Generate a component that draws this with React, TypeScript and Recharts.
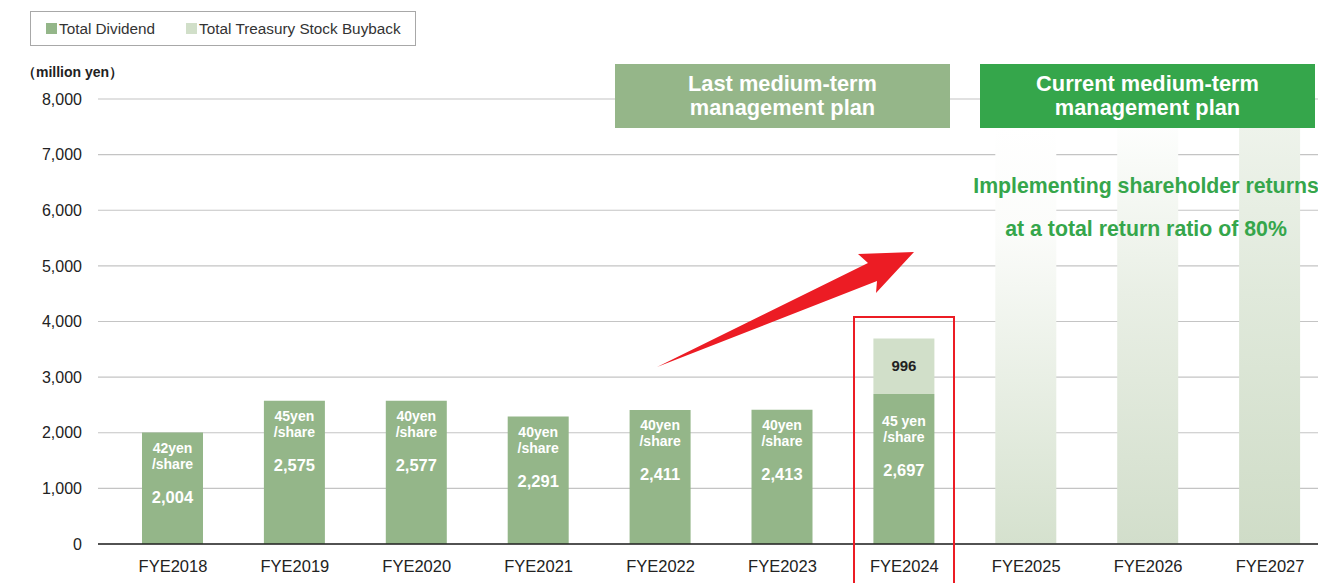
import { BarChart, Bar, XAxis, YAxis, CartesianGrid, Cell, LabelList } from 'recharts';

const years = ['FYE2018', 'FYE2019', 'FYE2020', 'FYE2021', 'FYE2022', 'FYE2023', 'FYE2024', 'FYE2025', 'FYE2026', 'FYE2027'];
const dividend = [2004, 2575, 2577, 2291, 2411, 2413, 2697, null, null, null];
const buyback = [null, null, null, null, null, null, 996, null, null, null];
// future years: decorative gradient columns rising behind the plan banner
const planned = [null, null, null, null, null, null, null, 7500, 7500, 7500];
const perShare = ['42yen', '45yen', '40yen', '40yen', '40yen', '40yen', '45 yen', '', '', ''];
const yTicks = [0, 1000, 2000, 3000, 4000, 5000, 6000, 7000, 8000];

const FONT = '"Liberation Sans", Arial, Helvetica, sans-serif';
const DIV_COLOR = '#94b689';
const BUY_COLOR = '#d1dfc9';

const data = years.map((year, i) => ({
  year,
  dividend: dividend[i],
  buyback: buyback[i],
  planned: planned[i],
}));

const fmt = (v: number) => v.toLocaleString('en-US');

function DividendLabel(props: any) {
  const { x, y, width, index, value } = props;
  if (value == null) return null;
  const cx = x + width / 2;
  // the stacked bar's labels sit a little lower
  const shift = buyback[index] ? 12 : 0;
  return (
    <g fontFamily={FONT} fontWeight={700} fill="#fff" textAnchor="middle">
      <text x={cx} y={y + 20 + shift} fontSize={14}>{perShare[index]}</text>
      <text x={cx} y={y + 36 + shift} fontSize={14}>/share</text>
      <text x={cx} y={y + 70 + shift} fontSize={16.5}>{fmt(value)}</text>
    </g>
  );
}

function BuybackLabel(props: any) {
  const { x, y, width, height, value } = props;
  if (value == null) return null;
  return (
    <text x={x + width / 2} y={y + height / 2 + 5} textAnchor="middle"
      fontFamily={FONT} fontWeight={700} fontSize={15} fill="#222">
      {fmt(value)}
    </text>
  );
}

export default function App() {
  return (
    <div style={{
      position: 'fixed', left: 0, top: 0, width: 1318, height: 583,
      overflow: 'hidden', background: '#fff', fontFamily: FONT,
    }}>
      <BarChart width={1331} height={583} data={data}
        margin={{ top: 99, right: 0, left: 20, bottom: 9 }}>
        <defs>
          <linearGradient id="g2025" x1="0" y1="0" x2="0" y2="1">
            <stop offset="0%" stopColor="#ffffff" />
            <stop offset="25%" stopColor="#fbfcfa" />
            <stop offset="100%" stopColor="#d5e1ce" />
          </linearGradient>
          <linearGradient id="g2026" x1="0" y1="0" x2="0" y2="1">
            <stop offset="0%" stopColor="#fdfefd" />
            <stop offset="40%" stopColor="#e9efe5" />
            <stop offset="100%" stopColor="#d2decb" />
          </linearGradient>
          <linearGradient id="g2027" x1="0" y1="0" x2="0" y2="1">
            <stop offset="0%" stopColor="#eef3eb" />
            <stop offset="40%" stopColor="#e0e9db" />
            <stop offset="100%" stopColor="#cfdcc7" />
          </linearGradient>
        </defs>
        <CartesianGrid vertical={false} stroke="#c4c4c4" strokeWidth={1.2} />
        <XAxis dataKey="year" padding={{ left: 14, right: 0 }} tickLine={false}
          axisLine={{ stroke: '#222', strokeWidth: 1.5 }} tickMargin={10}
          tick={{ fill: '#222', fontSize: 16.5, fontFamily: FONT }} />
        <YAxis width={78} domain={[0, 8000]} ticks={yTicks} tickFormatter={fmt}
          axisLine={false} tickLine={false} tickMargin={10}
          tick={{ fill: '#222', fontSize: 16, fontFamily: FONT }} />
        <Bar dataKey="dividend" stackId="a" fill={DIV_COLOR} barSize={61} isAnimationActive={false}>
          <LabelList dataKey="dividend" content={DividendLabel} />
        </Bar>
        <Bar dataKey="buyback" stackId="a" fill={BUY_COLOR} barSize={61} isAnimationActive={false}>
          <LabelList dataKey="buyback" content={BuybackLabel} />
        </Bar>
        <Bar dataKey="planned" stackId="a" barSize={61} isAnimationActive={false}>
          {data.map((d) => (
            <Cell key={d.year} fill={`url(#g${d.year.slice(3)})`} />
          ))}
        </Bar>
      </BarChart>

      {/* legend */}
      <div style={{
        position: 'absolute', left: 30, top: 11, width: 384, height: 33,
        border: '1px solid #a8a8a8', display: 'flex', alignItems: 'center',
        fontSize: 15.3, color: '#333',
      }}>
        <span style={{ width: 11, height: 11, background: DIV_COLOR, marginLeft: 15, marginRight: 2 }} />
        <span>Total Dividend</span>
        <span style={{ width: 11, height: 11, background: BUY_COLOR, marginLeft: 31, marginRight: 2 }} />
        <span>Total Treasury Stock Buyback</span>
      </div>

      <div style={{ position: 'absolute', left: 22, top: 64, fontSize: 14, fontWeight: 700, color: '#222' }}>
        （million yen）
      </div>

      {/* plan banners */}
      <div style={{
        position: 'absolute', left: 615, top: 64, width: 335, height: 64,
        background: '#95b689', color: '#fff', fontWeight: 700, fontSize: 21.8,
        lineHeight: '24px', textAlign: 'center', display: 'flex',
        alignItems: 'center', justifyContent: 'center',
      }}>
        Last medium-term<br />management plan
      </div>
      <div style={{
        position: 'absolute', left: 980, top: 64, width: 335, height: 64,
        background: '#35a64b', color: '#fff', fontWeight: 700, fontSize: 21.8,
        lineHeight: '24px', textAlign: 'center', display: 'flex',
        alignItems: 'center', justifyContent: 'center',
      }}>
        Current medium-term<br />management plan
      </div>
      <div style={{
        position: 'absolute', left: 950, top: 165, width: 392, textAlign: 'center',
        color: '#35a64b', fontWeight: 700, fontSize: 21.3, lineHeight: '43px',
      }}>
        Implementing shareholder returns<br />at a total return ratio of 80%
      </div>

      {/* highlight box around FYE2024 */}
      <div style={{
        position: 'absolute', left: 853, top: 316, width: 98, height: 300,
        border: '2px solid #ec1c24',
      }} />

      {/* growth arrow */}
      <svg width={1318} height={583} style={{ position: 'absolute', left: 0, top: 0, pointerEvents: 'none' }}>
        <polygon fill="#ec1c24"
          points="657,367 868,263 858,254 914,252 876,293 877,281" />
      </svg>
    </div>
  );
}
